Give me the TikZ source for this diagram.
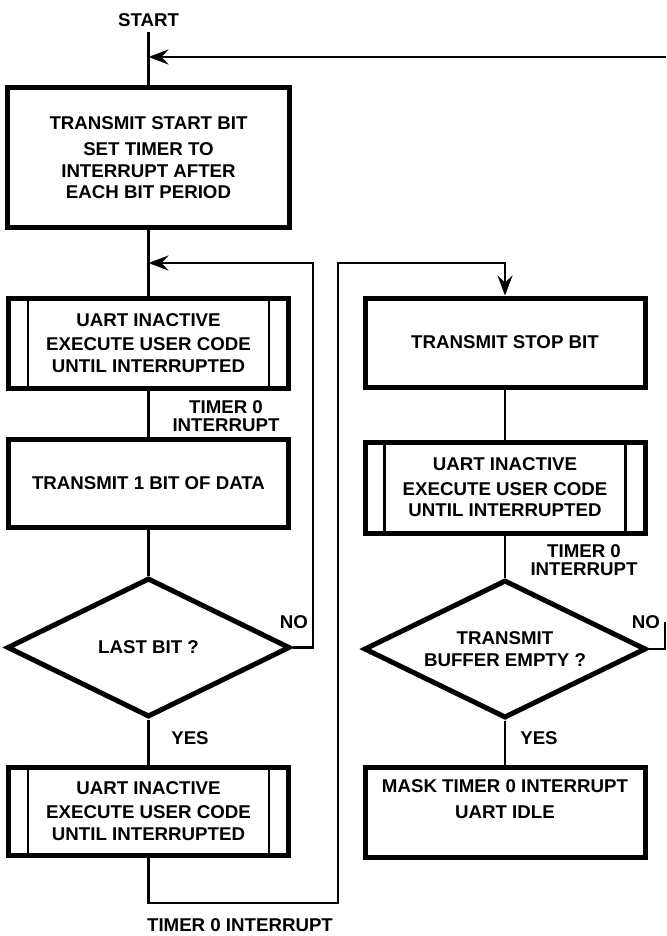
\documentclass[tikz,border=0pt]{standalone}
\usepackage{fontspec}
\setmainfont{Liberation Sans}[FakeStretch=1.01]
\usetikzlibrary{shapes.geometric,arrows.meta}
\begin{document}
\begin{tikzpicture}[x=1pt,y=-1pt,
  every node/.style={font=\bfseries\fontsize{18.5}{21.5}\selectfont, align=center},
  procbox/.style={draw, line width=5pt, minimum width=280pt, inner sep=0pt, rectangle},
  predef/.style={procbox, append after command={
     \pgfextra{\draw[line width=2.4pt] ([xshift=22pt]\tikzlastnode.north west) -- ([xshift=22pt]\tikzlastnode.south west);
               \draw[line width=2.4pt] ([xshift=-22pt]\tikzlastnode.north east) -- ([xshift=-22pt]\tikzlastnode.south east);}}},
  decision/.style={draw, diamond, aspect=2, line width=5pt, inner sep=0pt},
  conn/.style={line width=2.3pt},
  arr/.style={conn, -{Stealth[length=20pt,width=15pt,inset=7pt]}},
  lbl/.style={inner sep=0pt}
]
\useasboundingbox (0,0) rectangle (666,936);

% left column
\node[lbl] (start) at (148.5,20) {START};
\coordinate (startTop) at (148.5,32);
\node[procbox, minimum width=282pt, minimum height=139pt] (b1) at (148.5,157.5)
  {TRANSMIT START BIT\\[5pt]SET TIMER TO\\INTERRUPT AFTER\\EACH BIT PERIOD};
\node[predef, minimum height=90pt] (b2) at (148.5,343)
  {UART INACTIVE\\[3pt]EXECUTE USER CODE\\UNTIL INTERRUPTED};
\node[lbl, font=\bfseries\fontsize{18.5}{18.5}\selectfont] (t1) at (226,416) {TIMER 0\\INTERRUPT};
\node[procbox, minimum height=88pt] (b3) at (148.5,483) {TRANSMIT 1 BIT OF DATA};
\node[decision, minimum width=283pt, minimum height=139pt] (d1) at (148.5,647.5) {LAST BIT ?};
\node[lbl] (no1) at (294,622) {NO};
\node[lbl] (yes1) at (190,738) {YES};
\node[predef, minimum height=88pt] (b4) at (148.5,811)
  {UART INACTIVE\\[3pt]EXECUTE USER CODE\\UNTIL INTERRUPTED};
\node[lbl] (t3) at (240,925) {TIMER 0 INTERRUPT};

% right column
\node[procbox, minimum height=89pt] (b5) at (505,342.5) {TRANSMIT STOP BIT};
\node[predef, minimum height=91pt] (b6) at (505,487.5)
  {UART INACTIVE\\[3pt]EXECUTE USER CODE\\UNTIL INTERRUPTED};
\node[lbl, font=\bfseries\fontsize{18.5}{18.5}\selectfont] (t2) at (584,560) {TIMER 0\\INTERRUPT};
\node[decision, minimum width=282pt, minimum height=138pt] (d2) at (505,649) {TRANSMIT\\BUFFER EMPTY ?};
\node[lbl] (no2) at (646,622) {NO};
\node[lbl] (yes2) at (539,738) {YES};
\node[procbox, minimum height=90pt] (b7) at (505,812)
  {MASK TIMER 0 INTERRUPT\\[4pt]UART IDLE\\[4pt]\mbox{}};

% connector coordinates
\coordinate (topRight) at (666,57);
\coordinate (loopA) at (313,263);
\coordinate (loopB) at (338,263);
\coordinate (loopC) at (338,903);
\coordinate (noEnd) at (665,622);

% connectors
\draw[conn] (startTop) -- (b1.north);
\draw[arr] (topRight) -- (b1.north |- topRight);
\draw[conn] (b1.south) -- (b2.north);
\draw[conn] (b2.south) -- (b3.north);
\draw[conn] (b3.south) -- (d1.north);
\draw[conn] (d1.south) -- (b4.north);
\draw[arr] (d1.east) -- (d1.east -| loopA) -- (loopA) -- (b1.south |- loopA);
\draw[arr] (b4.south) -- (b4.south |- loopC) -- (loopC) -- (loopB) -- (b5.north |- loopB) -- (b5.north);
\draw[conn] (b5.south) -- (b6.north);
\draw[conn] (b6.south) -- (d2.north);
\draw[conn] (d2.south) -- (b7.north);
\draw[conn] (d2.east) -- (d2.east -| noEnd) -- (noEnd);
\end{tikzpicture}
\end{document}
